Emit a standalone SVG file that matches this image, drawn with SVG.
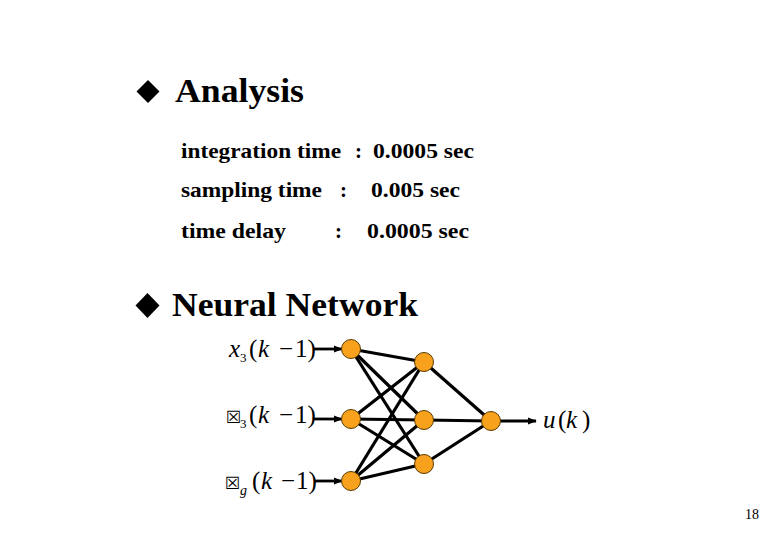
<svg xmlns="http://www.w3.org/2000/svg" width="780" height="540" viewBox="0 0 780 540">
<defs>
<style>
.h{font-family:"Liberation Serif",serif;font-weight:bold;font-size:34px;fill:#000}
.t{font-family:"Liberation Serif",serif;font-weight:bold;font-size:21px;fill:#000}
.m{font-family:"Liberation Serif",serif;font-style:italic;font-size:25px;fill:#000}
.mu{font-family:"Liberation Serif",serif;font-size:25px;fill:#000}
.bx{font-family:"DejaVu Sans",sans-serif;font-size:17px;fill:#000}
.s{font-family:"Liberation Serif",serif;font-style:italic;font-size:14px;fill:#000}
.su{font-family:"Liberation Serif",serif;font-size:13px;fill:#000}
.e{stroke:#000;stroke-width:3.2;fill:none}
.a{stroke:#000;stroke-width:2.8;fill:none;marker-end:url(#ah)}
.n{fill:#F7A11C;stroke:#5a3a00;stroke-width:1}
.pg{font-family:"Liberation Serif",serif;font-size:14px;fill:#000}
</style>
<marker id="ah" viewBox="0 0 10 10" refX="9" refY="5" markerWidth="3.2" markerHeight="3.2" orient="auto" markerUnits="strokeWidth">
<path d="M0,1 L10,5 L0,9 z" fill="#000"/>
</marker>
</defs>
<rect width="780" height="540" fill="#fff"/>
<g id="analysis">
<path d="M148,80 L159.5,91.5 L148,103 L136.5,91.5 z" fill="#000"/>
<text class="h" x="175" y="102" textLength="129" lengthAdjust="spacingAndGlyphs">Analysis</text>
<text class="t" x="181" y="158" textLength="160" lengthAdjust="spacingAndGlyphs">integration time</text>
<text class="t" x="355" y="158">:</text>
<text class="t" x="373" y="158" textLength="101" lengthAdjust="spacingAndGlyphs">0.0005 sec</text>
<text class="t" x="181" y="197" textLength="141" lengthAdjust="spacingAndGlyphs">sampling time</text>
<text class="t" x="340" y="197">:</text>
<text class="t" x="371" y="197" textLength="89" lengthAdjust="spacingAndGlyphs">0.005 sec</text>
<text class="t" x="181" y="238" textLength="105" lengthAdjust="spacingAndGlyphs">time delay</text>
<text class="t" x="335" y="238">:</text>
<text class="t" x="367" y="238" textLength="102" lengthAdjust="spacingAndGlyphs">0.0005 sec</text>
</g>
<g id="nn-title">
<path d="M147.5,293 L159.5,305.5 L147.5,318 L135.5,305.5 z" fill="#000"/>
<text class="h" x="172" y="316" textLength="246" lengthAdjust="spacingAndGlyphs">Neural Network</text>
</g>
<g id="connectors">
<line class="e" x1="351" y1="349" x2="424" y2="362"/>
<line class="e" x1="351" y1="349" x2="424" y2="420"/>
<line class="e" x1="351" y1="349" x2="424" y2="464"/>
<line class="e" x1="351" y1="419" x2="424" y2="362"/>
<line class="e" x1="351" y1="419" x2="424" y2="420"/>
<line class="e" x1="351" y1="419" x2="424" y2="464"/>
<line class="e" x1="351" y1="481" x2="424" y2="362"/>
<line class="e" x1="351" y1="481" x2="424" y2="420"/>
<line class="e" x1="351" y1="481" x2="424" y2="464"/>
<line class="e" x1="424" y1="362" x2="491" y2="421"/>
<line class="e" x1="424" y1="420" x2="491" y2="421"/>
<line class="e" x1="424" y1="464" x2="491" y2="421"/>
<line class="a" x1="314" y1="349" x2="342" y2="349"/>
<line class="a" x1="314" y1="419" x2="342" y2="419"/>
<line class="a" x1="314" y1="481" x2="342" y2="481"/>
<line class="a" x1="500" y1="421" x2="536" y2="421"/>
</g>
<g id="in1"><circle class="n" cx="351" cy="349" r="9.5"/>
<text y="357"><tspan class="m" x="229">x</tspan><tspan class="su" x="240" y="362">3</tspan><tspan class="mu" x="249" y="357">(</tspan><tspan class="m" x="258">k</tspan><tspan class="mu" x="279">−</tspan><tspan class="mu" x="295">1)</tspan></text></g>
<g id="in2"><circle class="n" cx="351" cy="419" r="9.5"/>
<text y="423"><tspan class="bx" x="226">☒</tspan><tspan class="su" x="240" y="428">3</tspan><tspan class="mu" x="249" y="423">(</tspan><tspan class="m" x="258">k</tspan><tspan class="mu" x="279">−</tspan><tspan class="mu" x="295">1)</tspan></text></g>
<g id="in3"><circle class="n" cx="351" cy="481" r="9.5"/>
<text y="489"><tspan class="bx" x="225">☒</tspan><tspan class="s" x="240" y="495">g</tspan><tspan class="mu" x="252" y="489">(</tspan><tspan class="m" x="261">k</tspan><tspan class="mu" x="281">−</tspan><tspan class="mu" x="296">1)</tspan></text></g>
<g id="h1"><circle class="n" cx="424" cy="362" r="9.5"/></g>
<g id="h2"><circle class="n" cx="424" cy="420" r="9.5"/></g>
<g id="h3"><circle class="n" cx="424" cy="464" r="9.5"/></g>
<g id="out"><circle class="n" cx="491" cy="421" r="9.5"/>
<text y="428"><tspan class="m" x="543">u</tspan><tspan class="mu" x="558">(</tspan><tspan class="m" x="566">k</tspan><tspan class="mu" x="582">)</tspan></text></g>
<text class="pg" x="745" y="519">18</text>
</svg>
